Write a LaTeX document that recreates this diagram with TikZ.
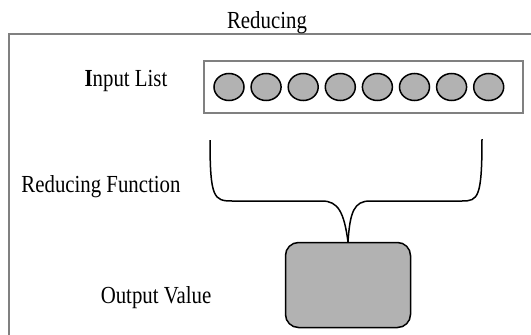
\documentclass[tikz,border=0pt]{standalone}
\usepackage{fontspec}
\setmainfont{Liberation Serif}[FakeStretch=0.85]
\usepackage{xcolor}
\usepackage{tikz}
\usetikzlibrary{positioning, shapes.geometric}

\begin{document}
\begin{tikzpicture}[x=1pt, y=-1pt,
    every node/.style={font=\fontsize{24.5}{28}\selectfont, inner sep=0pt},
    item/.style={draw, ellipse, fill=black!30, line width=1.5pt, minimum width=30pt, minimum height=27pt},
    frameline/.style={line width=1.5pt, black!50}]
   % Page size (always first!)
   \useasboundingbox (0,0) rectangle (531,335);
    % Outer frame, only its top and left edges are in view
    \draw[frameline] (531,34) -- (9,34) -- (9,335);
    \node[anchor=base] (title) at (267,28) {Reducing};

    % Input list with its items
    \node[anchor=base] (inlabel) at (126,86) {\textbf{I}nput List};
    \node[draw, black!50, line width=1.2pt, minimum width=319pt, minimum height=52pt] (inlist) at (363.5,87) {};
    \foreach \i in {1,...,8}
        \node[item] (c\i) at ({229+37.1*(\i-1)},87) {};

    % Reducing function as a brace
    \node[anchor=base] (fnlabel) at (101,192) {Reducing Function};
    \coordinate (bl) at (210,140);
    \coordinate (br) at (482,139);

    % Output value
    \node[anchor=base] (outlabel) at (156,303) {Output Value};
    \node[draw, fill=black!30, rounded corners=13pt, line width=1.5pt, minimum width=125pt, minimum height=85pt] (out) at (348,285) {};

    \draw[line width=1.5pt] (bl) .. controls (210,198) and (214,201) .. (232,201) -- (322,201) .. controls (338,201) and (344,212) .. (out.north);
    \draw[line width=1.5pt] (br) .. controls (482,198) and (478,201) .. (462,201) -- (370,201) .. controls (354,201) and (350,212) .. (out.north);
\end{tikzpicture}
\end{document}
